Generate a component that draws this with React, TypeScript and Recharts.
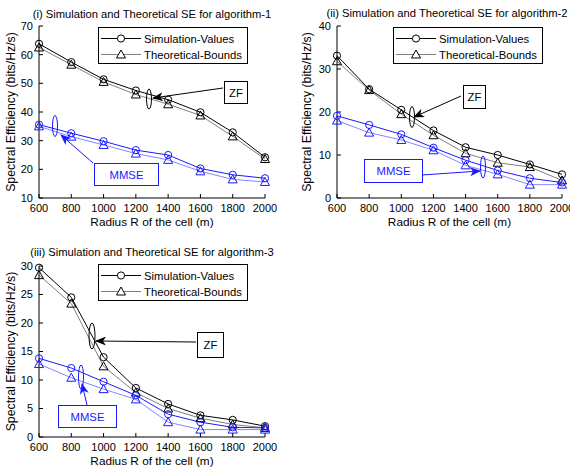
import React from "react";
import { LineChart, Line, XAxis, YAxis, Legend } from "recharts";

// radius of the cell (m)
const radius = [600, 800, 1000, 1200, 1400, 1600, 1800, 2000];

// (i) algorithm-1
const alg1SimZF = [63.8, 57.4, 51.4, 47.5, 44.3, 39.9, 32.9, 24.2];
const alg1TheoZF = [62.5, 56.5, 50.5, 46.1, 42.7, 38.8, 31.5, 23.6];
const alg1SimMMSE = [35.6, 32.6, 29.8, 26.7, 25.0, 20.3, 18.1, 16.9];
const alg1TheoMMSE = [35.0, 31.4, 28.5, 25.5, 23.3, 19.3, 16.5, 15.6];
const yTicks1 = [10, 20, 30, 40, 50, 60, 70];

// (ii) algorithm-2
const alg2SimZF = [33.1, 25.3, 20.5, 15.7, 11.8, 10.0, 7.8, 5.5];
const alg2TheoZF = [31.8, 25.1, 19.5, 14.6, 10.4, 8.2, 7.2, 4.1];
const alg2SimMMSE = [19.1, 17.0, 14.8, 11.7, 8.8, 6.4, 4.6, 3.6];
const alg2TheoMMSE = [18.0, 15.2, 13.5, 11.1, 7.6, 5.5, 3.1, 3.1];
const yTicks2 = [0, 10, 20, 30, 40];

// (iii) algorithm-3
const alg3SimZF = [29.7, 24.5, 14.0, 8.6, 5.8, 3.8, 3.0, 1.9];
const alg3TheoZF = [28.4, 23.4, 12.4, 7.8, 5.0, 3.3, 2.2, 1.6];
const alg3SimMMSE = [13.8, 12.1, 9.7, 7.3, 4.0, 2.6, 1.7, 1.6];
const alg3TheoMMSE = [12.8, 10.4, 8.4, 6.6, 2.6, 1.3, 1.3, 1.3];
const yTicks3 = [0, 5, 10, 15, 20, 25, 30];

const FONT = '"Liberation Sans", Arial, Helvetica, sans-serif';
const BLACK = "#000000";
const GRAY = "#808080";
const BLUE = "#1a1aff";
const LIGHT_BLUE = "#8585ff";

function buildRows(simZF: number[], theoZF: number[], simMMSE: number[], theoMMSE: number[]) {
  return radius.map((r, i) => ({
    r,
    simZF: simZF[i],
    theoZF: theoZF[i],
    simMMSE: simMMSE[i],
    theoMMSE: theoMMSE[i],
  }));
}

const circleDot = (color: string) => (props: any) => {
  const { cx, cy, index } = props;
  if (cx == null || cy == null) return <g key={`c${index}`} />;
  return <circle key={`c${index}`} cx={cx} cy={cy} r={3.6} fill="none" stroke={color} strokeWidth={1} />;
};

const triangleDot = (color: string) => (props: any) => {
  const { cx, cy, index } = props;
  if (cx == null || cy == null) return <g key={`t${index}`} />;
  const pts = `${cx},${cy - 4.5} ${cx - 4.5},${cy + 3.5} ${cx + 4.5},${cy + 3.5}`;
  return <polygon key={`t${index}`} points={pts} fill="none" stroke={color} strokeWidth={1} />;
};

function LegendBox() {
  return (
    <svg width={151} height={38} style={{ display: "block", fontFamily: FONT }}>
      <rect x={0.5} y={0.5} width={149} height={36} fill="#fff" stroke={BLACK} strokeWidth={1} />
      <line x1={3} x2={43} y1={11.5} y2={11.5} stroke={BLACK} />
      <circle cx={23} cy={11.5} r={3.6} fill="#fff" stroke={BLACK} />
      <text x={46} y={15.5} fontSize={11.3} fill="#000">Simulation-Values</text>
      <line x1={3} x2={43} y1={27.5} y2={27.5} stroke={GRAY} />
      <polygon points="23,23 18.5,31 27.5,31" fill="#fff" stroke={BLACK} />
      <text x={46} y={31.5} fontSize={11.3} fill="#000">Theoretical-Bounds</text>
    </svg>
  );
}

type Note = {
  label: string;
  color: string;
  box: [number, number, number, number];
  from: [number, number];
  to: [number, number];
  ellipse: [number, number, number, number];
};

type PanelProps = {
  id: string;
  title: string;
  rows: ReturnType<typeof buildRows>;
  yDomain: [number, number];
  yTicks: number[];
  left: number;
  top: number;
  width: number;
  height: number;
  margin: { top: number; right: number; bottom: number; left: number };
  titleX: number;
  titleY: number;
  yLabelOffset: number;
  legendAt: { left: number; top: number };
  notes: Note[];
};

function Panel(p: PanelProps) {
  const tickStyle = { fill: "#000", fontSize: 11, fontFamily: FONT };
  return (
    <div style={{ position: "absolute", left: p.left, top: p.top, width: p.width, height: p.height }}>
      <LineChart width={p.width} height={p.height} data={p.rows} margin={p.margin} style={{ fontFamily: FONT }}>
        <XAxis
          dataKey="r"
          type="number"
          domain={[600, 2000]}
          ticks={radius}
          tick={tickStyle}
          tickSize={-4}
          tickMargin={10}
          height={30}
          stroke={BLACK}
          interval={0}
          label={{ value: "Radius R of the cell (m)", position: "insideBottom", offset: 2, fill: "#000", fontSize: 11.8 }}
        />
        <XAxis xAxisId="top" orientation="top" type="number" domain={[600, 2000]} ticks={radius} tick={false} tickSize={-4} height={0} stroke={BLACK} />
        <YAxis
          type="number"
          domain={p.yDomain}
          ticks={p.yTicks}
          tick={tickStyle}
          tickSize={-4}
          tickMargin={10}
          width={39}
          stroke={BLACK}
          interval={0}
          label={{
            value: "Spectral Efficiency (bits/Hz/s)",
            angle: -90,
            position: "insideLeft",
            offset: p.yLabelOffset,
            fill: "#000",
            fontSize: 12.3,
            style: { textAnchor: "middle" },
          }}
        />
        <YAxis yAxisId="right" orientation="right" type="number" domain={p.yDomain} ticks={p.yTicks} tick={false} tickSize={-4} width={0} stroke={BLACK} />
        <Legend
          layout="vertical"
          align="center"
          verticalAlign="middle"
          content={() => <LegendBox />}
          wrapperStyle={{ left: p.legendAt.left, top: p.legendAt.top, width: 151, height: 38 }}
        />
        <Line dataKey="theoZF" stroke={GRAY} strokeWidth={1} dot={triangleDot(BLACK)} isAnimationActive={false} />
        <Line dataKey="simZF" stroke={BLACK} strokeWidth={1} dot={circleDot(BLACK)} isAnimationActive={false} />
        <Line dataKey="theoMMSE" stroke={LIGHT_BLUE} strokeWidth={1} dot={triangleDot(BLUE)} isAnimationActive={false} />
        <Line dataKey="simMMSE" stroke={BLUE} strokeWidth={1} dot={circleDot(BLUE)} isAnimationActive={false} />
      </LineChart>
      <svg
        width={p.width}
        height={p.height}
        style={{ position: "absolute", left: 0, top: 0, pointerEvents: "none", overflow: "visible", fontFamily: FONT }}
      >
        <defs>
          {p.notes.map((n, i) => (
            <marker key={i} id={`${p.id}-arr-${i}`} markerWidth={11} markerHeight={9} refX={10} refY={4.5} orient="auto" markerUnits="userSpaceOnUse">
              <path d="M0,0 L11,4.5 L0,9 L3,4.5 Z" fill={n.color} />
            </marker>
          ))}
        </defs>
        <text x={p.titleX} y={p.titleY} textAnchor="middle" fontSize={11.2} fill="#000">
          {p.title}
        </text>
        {p.notes.map((n, i) => (
          <g key={i}>
            <ellipse cx={n.ellipse[0]} cy={n.ellipse[1]} rx={n.ellipse[2]} ry={n.ellipse[3]} fill="none" stroke={n.color} strokeWidth={1} />
            <line x1={n.from[0]} y1={n.from[1]} x2={n.to[0]} y2={n.to[1]} stroke={n.color} strokeWidth={1} markerEnd={`url(#${p.id}-arr-${i})`} />
            <rect x={n.box[0] + 0.5} y={n.box[1] + 0.5} width={n.box[2]} height={n.box[3]} fill="#fff" stroke={n.color} strokeWidth={1} />
            <text x={n.box[0] + n.box[2] / 2 + 0.5} y={n.box[1] + n.box[3] / 2 + 4.5} textAnchor="middle" fontSize={11.3} fill={n.color}>
              {n.label}
            </text>
          </g>
        ))}
      </svg>
    </div>
  );
}

export default function App() {
  return (
    <div style={{ position: "absolute", left: 0, top: 0, width: 570, height: 468, background: "#fff", overflow: "hidden" }}>
      <Panel
        id="p1"
        title="(i) Simulation and Theoretical SE for algorithm-1"
        rows={buildRows(alg1SimZF, alg1TheoZF, alg1SimMMSE, alg1TheoMMSE)}
        yDomain={[10, 70]}
        yTicks={yTicks1}
        left={0}
        top={0}
        width={290}
        height={232}
        margin={{ top: 26, right: 25, bottom: 4, left: 0 }}
        titleX={152}
        titleY={18}
        yLabelOffset={11}
        legendAt={{ left: 98, top: 27 }}
        notes={[
          { label: "ZF", color: BLACK, box: [224, 81, 23, 22], from: [223, 88], to: [153, 98], ellipse: [149, 99, 2.5, 10] },
          { label: "MMSE", color: BLUE, box: [94, 163, 64, 22], from: [93, 163], to: [61, 135], ellipse: [55, 126, 2.5, 10.5] },
        ]}
      />
      <Panel
        id="p2"
        title="(ii) Simulation and Theoretical SE for algorithm-2"
        rows={buildRows(alg2SimZF, alg2TheoZF, alg2SimMMSE, alg2TheoMMSE)}
        yDomain={[0, 40]}
        yTicks={yTicks2}
        left={290}
        top={0}
        width={280}
        height={232}
        margin={{ top: 26, right: 8, bottom: 4, left: 8 }}
        titleX={157}
        titleY={17}
        yLabelOffset={9}
        legendAt={{ left: 103, top: 27 }}
        notes={[
          { label: "ZF", color: BLACK, box: [173, 85, 22, 23], from: [171, 96], to: [124, 117], ellipse: [122, 117, 2.5, 10.5] },
          { label: "MMSE", color: BLUE, box: [74, 159, 58, 23], from: [132, 175], to: [190, 171], ellipse: [193, 167, 2.5, 11] },
        ]}
      />
      <Panel
        id="p3"
        title="(iii) Simulation and Theoretical SE for algorithm-3"
        rows={buildRows(alg3SimZF, alg3TheoZF, alg3SimMMSE, alg3TheoMMSE)}
        yDomain={[0, 30]}
        yTicks={yTicks3}
        left={0}
        top={230}
        width={290}
        height={238}
        margin={{ top: 36, right: 25, bottom: 1, left: 0 }}
        titleX={152}
        titleY={26}
        yLabelOffset={11}
        legendAt={{ left: 98, top: 34 }}
        notes={[
          { label: "ZF", color: BLACK, box: [197, 102, 26, 25], from: [196, 112], to: [96, 111], ellipse: [92, 106, 3, 13] },
          { label: "MMSE", color: BLUE, box: [58, 175, 58, 22], from: [87, 175], to: [82, 154], ellipse: [81, 147, 2.5, 12] },
        ]}
      />
    </div>
  );
}
